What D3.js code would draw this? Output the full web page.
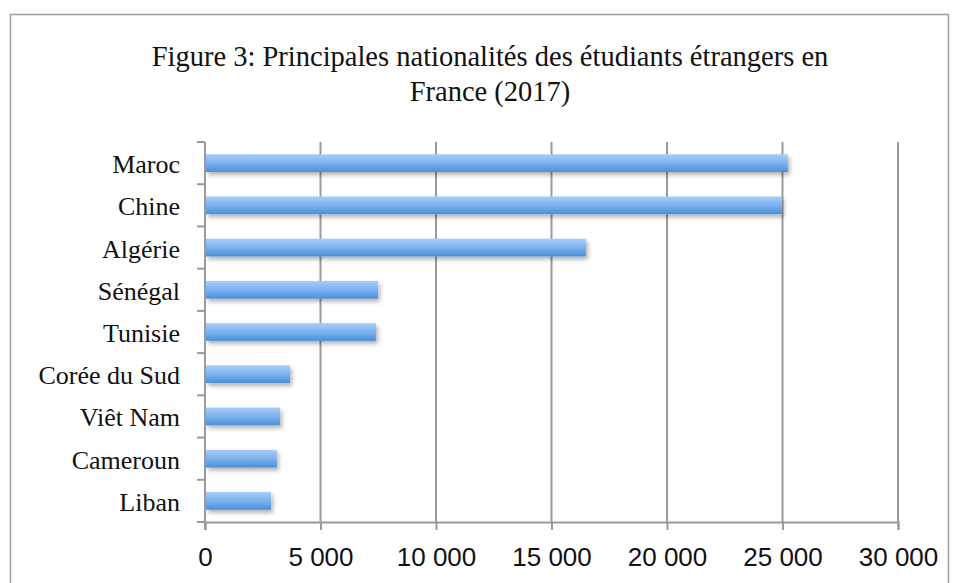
<!DOCTYPE html>
<html>
<head>
<meta charset="utf-8">
<script src="https://cdn.jsdelivr.net/npm/d3@7"></script>
<style>
  body { margin: 0; background: #fff; }
  svg { display: block; font-family: "Liberation Serif", "DejaVu Serif", serif; }
</style>
</head>
<body>
<svg width="957" height="583"></svg>
<script>
// Chart data
const countries = ['Maroc', 'Chine', 'Algérie', 'Sénégal', 'Tunisie', 'Corée du Sud', 'Viêt Nam', 'Cameroun', 'Liban'];
const students = [25230, 24980, 16490, 7490, 7400, 3680, 3250, 3110, 2860];
const xTicks = [0, 5000, 10000, 15000, 20000, 25000, 30000];
const titleLines = ['Figure 3: Principales nationalités des étudiants étrangers en', 'France (2017)'];

const svg = d3.select('svg');
const margin = { left: 205, right: 59, top: 142, bottom: 61 };
const width = 957, height = 583;

// outer frame
svg.append('rect')
    .attr('x', 10.5).attr('y', 14.5)
    .attr('width', 938).attr('height', 600)
    .attr('fill', 'none').attr('stroke', '#a0a0a0').attr('stroke-width', 1.5);

// title
svg.append('text')
    .attr('text-anchor', 'middle')
    .attr('font-size', 28.5)
    .attr('fill', '#111')
    .selectAll('tspan')
    .data(titleLines)
    .join('tspan')
    .attr('x', 490)
    .attr('y', (d, i) => 66 + i * 35)
    .text(d => d);

const x = d3.scaleLinear().domain([0, 30000]).range([margin.left, width - margin.right]);
const y = d3.scaleBand().domain(countries).range([margin.top, height - margin.bottom]).paddingInner(0.58).paddingOuter(0.29);

// defs: gradient and shadow
const defs = svg.append('defs');
const grad = defs.append('linearGradient').attr('id', 'barGrad')
    .attr('x1', 0).attr('y1', 0).attr('x2', 0).attr('y2', 1);
grad.append('stop').attr('offset', '0%').attr('stop-color', '#a9cdf9');
grad.append('stop').attr('offset', '50%').attr('stop-color', '#7cb2ef');
grad.append('stop').attr('offset', '100%').attr('stop-color', '#4a8fda');
const shadow = defs.append('filter').attr('id', 'shadow')
    .attr('x', '-5%').attr('y', '-30%').attr('width', '115%').attr('height', '190%');
shadow.append('feDropShadow')
    .attr('dx', 2).attr('dy', 3).attr('stdDeviation', 2)
    .attr('flood-color', '#000').attr('flood-opacity', 0.3);

// grid lines
svg.append('g')
    .selectAll('line')
    .data(xTicks.slice(1))
    .join('line')
    .attr('x1', d => x(d)).attr('x2', d => x(d))
    .attr('y1', margin.top).attr('y2', height - margin.bottom)
    .attr('stroke', '#9a9a9a').attr('stroke-width', 2);

// bars
svg.append('g')
    .selectAll('rect')
    .data(countries)
    .join('rect')
    .attr('x', x(0) + 1)
    .attr('y', d => y(d))
    .attr('width', (d, i) => x(students[i]) - x(0) - 1)
    .attr('height', y.bandwidth())
    .attr('fill', 'url(#barGrad)')
    .attr('filter', 'url(#shadow)');

// x axis
const xAxis = svg.append('g')
    .attr('transform', `translate(0,${height - margin.bottom})`)
    .call(d3.axisBottom(x).tickValues(xTicks).tickSize(8).tickPadding(18)
        .tickFormat(d => d3.format(',')(d).replace(',', ' ')));
xAxis.select('.domain').attr('stroke', '#9a9a9a').attr('stroke-width', 2);
xAxis.selectAll('.tick line').attr('stroke', '#9a9a9a').attr('stroke-width', 2);
xAxis.selectAll('text').attr('font-size', 26).attr('fill', '#111').attr('font-family', null);

// y axis with ticks between bands
const yAxis = svg.append('g').attr('transform', `translate(${margin.left},0)`);
yAxis.append('line')
    .attr('x1', 0).attr('x2', 0)
    .attr('y1', margin.top).attr('y2', height - margin.bottom + 8)
    .attr('stroke', '#9a9a9a').attr('stroke-width', 2);
const bounds = d3.range(countries.length + 1).map(i => margin.top + i * (height - margin.top - margin.bottom) / countries.length);
yAxis.selectAll('.yt')
    .data(bounds)
    .join('line')
    .attr('x1', -8).attr('x2', 0)
    .attr('y1', d => d).attr('y2', d => d)
    .attr('stroke', '#9a9a9a').attr('stroke-width', 2);
yAxis.selectAll('text')
    .data(countries)
    .join('text')
    .attr('x', -25)
    .attr('y', d => y(d) + y.bandwidth() / 2 + 10)
    .attr('text-anchor', 'end')
    .attr('font-size', 26)
    .attr('fill', '#111')
    .text(d => d);
</script>
</body>
</html>
